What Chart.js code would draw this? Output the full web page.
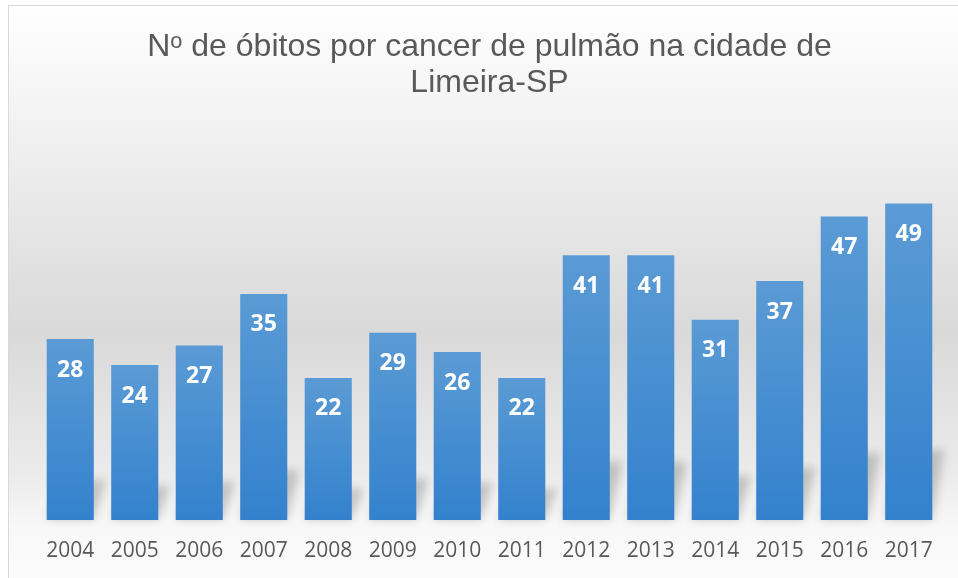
<html lang="pt"><head>
<meta charset="UTF-8">
<title>Óbitos por cancer de pulmão - Limeira-SP</title>
<script src="https://cdn.jsdelivr.net/npm/chart.js"></script>
<style>
  body { margin: 0; background: #ffffff; }
  .wrap { width: 958px; height: 578px; position: relative; }
</style>
</head>
<body>
<div class="wrap"><canvas id="chart"></canvas></div>
<script>
  const years = ['2004', '2005', '2006', '2007', '2008', '2009', '2010', '2011', '2012', '2013', '2014', '2015', '2016', '2017'];
  const deaths = [28, 24, 27, 35, 22, 29, 26, 22, 41, 41, 31, 37, 47, 49];
  const titleLines = ['Nᵒ de óbitos por cancer de pulmão na cidade de', 'Limeira-SP'];

  // frame + soft grey gradient behind everything
  const backdrop = {
    id: 'backdrop',
    beforeDraw(chart) {
      const { ctx, width, height } = chart;
      ctx.save();
      ctx.fillStyle = '#ffffff';
      ctx.fillRect(0, 0, width, height);
      const g = ctx.createLinearGradient(0, 6, 0, height);
      g.addColorStop(0, '#ffffff');
      g.addColorStop(0.2, '#f2f2f2');
      g.addColorStop(0.57, '#d9d9d9');
      g.addColorStop(0.82, '#ebebeb');
      g.addColorStop(0.91, '#f8f8f8');
      g.addColorStop(1, '#fbfbfb');
      ctx.fillStyle = g;
      ctx.fillRect(8, 5, width, height);
      ctx.strokeStyle = '#d9d9d9';
      ctx.lineWidth = 1;
      ctx.strokeRect(8.5, 5.5, width + 10, height + 10);
      ctx.restore();
    }
  };

  // blurred cast shadow at the foot of every bar
  const barShadow = {
    id: 'barShadow',
    beforeDatasetsDraw(chart) {
      const { ctx } = chart;
      const meta = chart.getDatasetMeta(0);
      ctx.save();
      ctx.filter = 'blur(4px)';
      ctx.fillStyle = 'rgba(0,0,0,0.18)';
      meta.data.forEach(bar => {
        const half = bar.width / 2;
        const h = (bar.base - bar.y) * 0.22;
        ctx.beginPath();
        ctx.moveTo(bar.x - half, bar.base);
        ctx.lineTo(bar.x + half, bar.base);
        ctx.lineTo(bar.x + half + 12, bar.base - h);
        ctx.lineTo(bar.x - half + 12, bar.base - h);
        ctx.closePath();
        ctx.fill();
      });
      ctx.restore();
    }
  };

  // white value labels inside the top of each bar
  const valueLabels = {
    id: 'valueLabels',
    afterDatasetsDraw(chart) {
      const { ctx } = chart;
      const meta = chart.getDatasetMeta(0);
      ctx.save();
      ctx.fillStyle = '#ffffff';
      ctx.font = 'bold 23px "Open Sans", sans-serif';
      ctx.textAlign = 'center';
      ctx.textBaseline = 'middle';
      meta.data.forEach((bar, i) => {
        ctx.fillText(deaths[i], bar.x, bar.y + 31);
      });
      ctx.restore();
    }
  };

  function barGradient(c) {
    const { chart } = c;
    const { ctx, chartArea, scales } = chart;
    if (!chartArea) return '#4a8fd3';
    const top = scales.y.getPixelForValue(c.raw);
    const base = scales.y.getPixelForValue(0);
    const g = ctx.createLinearGradient(0, top, 0, base);
    g.addColorStop(0, '#5b9bd5');
    g.addColorStop(1, '#3381cd');
    return g;
  }

  new Chart(document.getElementById('chart'), {
    type: 'bar',
    data: {
      labels: years,
      datasets: [{
        data: deaths,
        backgroundColor: barGradient,
        borderWidth: 0,
        categoryPercentage: 1,
        barPercentage: 0.73
      }]
    },
    options: {
      responsive: true,
      maintainAspectRatio: false,
      animation: false,
      layout: { padding: { left: 38, right: 17, top: 0, bottom: 0 } },
      plugins: {
        legend: { display: false },
        tooltip: { enabled: false },
        title: {
          display: true,
          text: titleLines,
          color: '#595959',
          font: { family: '"Liberation Sans", Arial, sans-serif', size: 32, weight: 'normal', lineHeight: 1.1 },
          padding: { top: 30, bottom: 32 }
        }
      },
      scales: {
        x: {
          grid: { display: false, drawTicks: false },
          border: { display: false },
          ticks: {
            color: '#595959',
            font: { family: '"Open Sans", sans-serif', size: 21 },
            padding: 18,
            maxRotation: 0
          },
          afterFit(scale) { scale.height = 58; }
        },
        y: {
          display: false,
          min: 0,
          max: 60
        }
      }
    },
    plugins: [backdrop, barShadow, valueLabels]
  });
</script>
</body></html>
